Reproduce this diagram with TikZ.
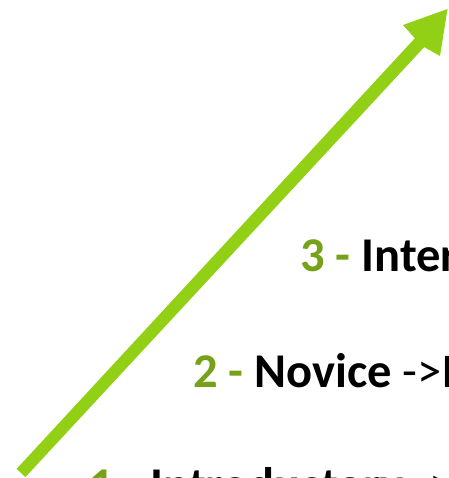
\documentclass[tikz,border=0pt]{standalone}
\usepackage{fontspec}
\setmainfont{Carlito}
\definecolor{arrowgreen}{RGB}{146,208,22}
\definecolor{numgreen}{RGB}{119,161,25}
\tikzset{
  lvl/.style={anchor=base west, inner sep=0pt, font=\fontsize{48.5}{54}\selectfont}
}
\newcommand{\gnum}[1]{\textcolor{numgreen}{\bfseries #1 -}}
\begin{document}
\begin{tikzpicture}[x=1pt,y=-1pt]
\useasboundingbox (0,0) rectangle (448,478);
\clip (0,0) rectangle (448,478);
% arrow
\coordinate (t1) at (16.6,468.9);
\coordinate (t2) at (25.4,477.1);
\coordinate (j1) at (414.8,38.3);
\coordinate (j2) at (424.2,47.1);
\coordinate (b1) at (403,25);
\coordinate (b2) at (440,56);
\coordinate (tip) at (447.5,9);
\fill[arrowgreen] (t1) -- (j1) -- (b1) -- (tip) -- (b2) -- (j2) -- (t2) -- cycle;
% labels
\node[lvl] (l3) at (300,271) {\gnum{3} \textbf{Intermediate}};
\node[lvl] (l2) at (193,387) {\gnum{2} \textbf{Novice} ->Intermediate};
\node[lvl] (l1) at (89,501) {\gnum{1} \textbf{Introductory} ->Novice};
\end{tikzpicture}
\end{document}
